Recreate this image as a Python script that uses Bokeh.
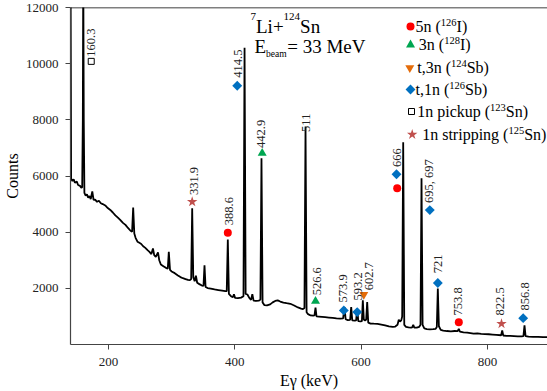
import math
from bokeh.plotting import figure
from bokeh.models import Range1d, FixedTicker, Span
from bokeh.embed import file_html
from bokeh.resources import INLINE
from bokeh.core.properties import value

FONT = "Liberation Serif"

# ---------------- data ----------------
energy = [140.2, 141.0, 143, 145, 147, 150, 152, 155, 157, 158.5, 159.5, 160.2, 161.0, 162.0,
          164, 166, 168, 170, 172, 174.5, 176.5, 179, 182, 185, 188, 191, 195, 199, 203, 207,
          211, 215, 219, 223, 227, 231, 235, 237.5, 239.2, 241, 243, 246, 249, 252, 255, 258,
          262, 265, 268, 270.5, 272.5, 275, 278.5, 280.5, 283, 287, 291, 294, 295.6, 297.5,
          300, 305, 310, 314, 318, 322, 326, 329, 331, 332.6, 334.3, 336.5, 338.5, 340.5, 344,
          348, 350.5, 352.1, 353.8, 357, 362, 368, 374, 380, 385, 387.3, 389, 390.7, 394, 397,
          398.7, 400.5, 405, 410, 413.8, 415.5, 417.2, 420, 423, 425.8, 427.8, 429.8, 434, 438,
          440.6, 442.3, 444, 447, 451, 456, 460, 464, 468, 472, 477, 482, 488, 494, 500, 505,
          508, 510.3, 512, 513.7, 516, 520, 524, 526.2, 527.8, 529.4, 533, 538, 543, 549, 555,
          561, 567, 571.5, 573.7, 575.5, 579, 582.6, 584.3, 586, 590, 592.1, 593.8, 595.5, 599,
          601.2, 602.7, 604.3, 606.2, 608, 609.6, 611.3, 615, 620, 626, 632, 638, 644, 650, 654,
          657.6, 659.6, 661.5, 663.5, 665, 666.6, 668.3, 671, 675, 679, 680.8, 682.5, 684.2,
          688, 692, 694, 695.6, 697.3, 700, 704, 709, 714, 718, 719.8, 721.4, 723.1, 726, 730,
          736, 742, 748, 752.8, 754.6, 756.4, 762, 768, 773, 778, 784, 790, 796, 802, 808, 814,
          821.6, 823.3, 825, 830, 836, 842, 848, 854, 856.9, 858.6, 860.3, 865, 872, 880, 888, 895]
counts = [12600, 5900, 5820, 5880, 5760, 5800, 5680, 5650, 5580, 5600, 8000, 13500, 8000, 5400,
          5300, 5350, 5230, 5280, 5180, 5450, 5150, 5160, 5080, 5120, 5030, 5000, 4950, 4860, 4790, 4700,
          4600, 4520, 4430, 4330, 4260, 4150, 4050, 4020, 4880, 3950, 3800, 3660, 3620, 3580, 3500, 3450,
          3360, 3300, 3220, 3420, 3180, 3120, 3280, 3000, 2850, 2790, 2730, 2700, 3300, 2660,
          2600, 2540, 2460, 2400, 2360, 2330, 2300, 2290, 2330, 4850, 2400, 2250, 2450, 2200, 2150,
          2100, 2090, 2820, 2050, 2010, 1990, 1960, 1940, 1920, 1900, 1900, 3740, 1800, 1720, 1680,
          1790, 1660, 1650, 1670, 1720, 10570, 1800, 1780, 1660, 1590, 1790, 1560, 1550, 1560,
          1600, 6630, 1500, 1400, 1390, 1430, 1500, 1550, 1570, 1530, 1490, 1470, 1450, 1390, 1320, 1280,
          1260, 1300, 7760, 1150, 1080, 1035, 1030, 1040, 1310, 1000, 995, 985, 975, 960, 945,
          930, 920, 930, 1330, 900, 870, 880, 1330, 860, 850, 860, 1275, 830, 820,
          830, 1570, 880, 860, 880, 1510, 780, 745, 740, 735, 710, 680, 645, 625, 640,
          700, 880, 820, 860, 1000, 7200, 700, 630, 610, 600, 610, 700, 600,
          600, 630, 700, 5920, 700, 570, 550, 540, 545, 560, 620, 1990, 650, 520, 495,
          480, 470, 480, 475, 560, 460, 430, 425, 405, 385, 395, 380, 370, 365, 355, 345,
          330, 500, 320, 310, 305, 300, 292, 290, 300, 680, 300, 280, 272, 268, 263, 260]

x_ticks = [200, 400, 600, 800]
y_ticks = [2000, 4000, 6000, 8000, 10000, 12000]

# assignment markers (energy, counts)
i126_e = [389.0, 657.1, 754.6]
i126_c = [3975, 5561, 796]
i128_e = [443.4, 527.8]
i128_c = [6811, 1546]
sb124_e = [604.2]
sb124_c = [1775]
sb126_e = [403.9, 572.6, 593.8, 656.0, 708.7, 721.4, 856.5]
sb126_c = [9214, 1214, 1154, 6061, 4786, 2189, 939]
sn123_e = [172.8]
sn123_c = [10082]
sn125_e = [332.6, 822.2]
sn125_c = [5082, 739]

# peak energy labels
peak_text = ["160.3", "331.9", "388.6", "414.5", "442.9", "511", "526.6", "573.9",
             "593.2", "602.7", "666", "695, 697", "721", "753.8", "822.5", "856.8"]
peak_text_e = [172.4, 335.2, 390.6, 405.1, 442.3, 513.1, 530.5, 571.3,
               594.3, 612.2, 657.1, 707.1, 721.4, 753.7, 820.6, 858.6]
peak_text_c = [10250, 5321, 4250, 9500, 7000, 7571, 1750, 1500,
               1571, 1929, 6321, 5036, 2536, 1036, 1036, 1214]

legend_rows = [
    [("5n (", "n"), ("126", "s"), ("I)", "n")],
    [("3n (", "n"), ("128", "s"), ("I)", "n")],
    [("t,3n (", "n"), ("124", "s"), ("Sb)", "n")],
    [("t,1n (", "n"), ("126", "s"), ("Sb)", "n")],
    [("1n pickup (", "n"), ("123", "s"), ("Sn)", "n")],
    [("1n stripping (", "n"), ("125", "s"), ("Sn)", "n")],
]

# ---------------- layout helpers (page px -> data) ----------------
XL, XR, YT, YB = 70.0, 547.0, 7.0, 344.0
E0, E1, C0, C1 = 140.0, 895.0, 0.0, 12000.0


def ex(xp):
    return E0 + (xp - XL) * (E1 - E0) / (XR - XL)


def cy(yp):
    return C0 + (YB - yp) * (C1 - C0) / (YB - YT)


WID = {" ": 0.25, "(": 0.333, ")": 0.333, ",": 0.25, ".": 0.25, "+": 0.564, "=": 0.564,
       "n": 0.5, "t": 0.278, "p": 0.5, "i": 0.278, "c": 0.444, "k": 0.5, "u": 0.5, "s": 0.389,
       "r": 0.333, "g": 0.5, "I": 0.333, "S": 0.556, "b": 0.5, "L": 0.611, "E": 0.611,
       "M": 0.889, "e": 0.444, "V": 0.722, "a": 0.444, "m": 0.778}


def tw(s, fs):
    return sum(WID.get(ch, 0.5) for ch in s) * fs


p = figure(width=547, height=391, x_range=Range1d(E0, E1), y_range=Range1d(C0, C1),
           output_backend="svg", toolbar_location=None,
           min_border_left=70, min_border_right=0, min_border_top=7, min_border_bottom=47)
p.outline_line_color = None
p.grid.visible = False
p.background_fill_color = "white"

for ax in (p.xaxis, p.yaxis):
    ax.axis_line_color = "#444444"
    ax.axis_line_width = 1.2
    ax.major_tick_line_color = "#444444"
    ax.major_tick_in = 0
    ax.major_tick_out = 5
    ax.minor_tick_line_color = None
    ax.major_label_text_font = FONT
    ax.major_label_text_font_size = "13px"
    ax.major_label_text_color = "#222222"
    ax.axis_label_text_font = FONT
    ax.axis_label_text_font_size = "16px"
    ax.axis_label_text_font_style = "normal"
    ax.axis_label_text_color = "black"
p.xaxis.ticker = FixedTicker(ticks=x_ticks)
p.yaxis.ticker = FixedTicker(ticks=y_ticks)
p.xaxis.major_label_standoff = 8
p.yaxis.major_label_standoff = 7
p.xaxis.axis_label = "Eγ (keV)"
p.yaxis.axis_label = "Counts"
p.xaxis.axis_label_standoff = 3
p.yaxis.axis_label_standoff = 2

p.add_layout(Span(location=C1, dimension="width", line_color="black", line_width=1.5))

# spectrum
p.line(energy, counts, line_color="black", line_width=1.8)

# markers
BLUE, RED, GREEN, ORANGE, STAR = "#0070c0", "#ff0000", "#00a651", "#e46c0a", "#c0504d"
p.scatter(i126_e, i126_c, marker="circle", size=8, fill_color=RED, line_color=None)
p.scatter(i128_e, i128_c, marker="triangle", size=9, fill_color=GREEN, line_color=None)
p.scatter(sb124_e, sb124_c, marker="inverted_triangle", size=9, fill_color=ORANGE, line_color=None)
p.scatter(sb126_e, sb126_c, marker="square", angle=math.pi / 4, size=7, fill_color=BLUE, line_color=None)
p.scatter(sn123_e, sn123_c, marker="square", size=6, fill_color="white", line_color="black", line_width=1)
p.scatter(sn125_e, sn125_c, marker="star", size=11, fill_color=STAR, line_color=None)

# peak labels
p.text(x=peak_text_e, y=peak_text_c, text=peak_text, angle=math.pi / 2,
       text_align="left", text_baseline="middle", text_font=value(FONT),
       text_font_size="12.5px", text_color="#222222")

# legend
row_mark_y = [26, 44.3, 67.3, 89, 111, 134]
row_mark_x = [410, 410, 409.3, 410, 411, 411.7]
row_text_x = [415, 418.3, 416.7, 415, 416.7, 421.7]
mk = [("circle", RED, 8, 0), ("triangle", GREEN, 9, 0), ("inverted_triangle", ORANGE, 9, 0),
      ("square", BLUE, 7, math.pi / 4), ("square", "white", 6, 0), ("star", STAR, 11, 0)]
for i, (m, col, sz, ang) in enumerate(mk):
    p.scatter([ex(row_mark_x[i])], [cy(row_mark_y[i])], marker=m, size=sz, angle=ang,
              fill_color=col, line_color=("black" if col == "white" else None), line_width=1)


def mid(base, fs):
    # vertical centre of a text line whose alphabetic baseline is at page y = base
    return base - 0.3 * fs


LF, LS = 16, 10.5
nx, ny, nt, sx, sy, st = [], [], [], [], [], []
for i, row in enumerate(legend_rows):
    x = row_text_x[i]
    base = row_mark_y[i] + 4.5
    for txt, kind in row:
        if kind == "n":
            nx.append(ex(x)); ny.append(cy(mid(base, LF))); nt.append(txt)
            x += tw(txt, LF)
        else:
            sx.append(ex(x)); sy.append(cy(mid(base - 5.5, LS))); st.append(txt)
            x += tw(txt, LS)

# title
TF, TS, TB = 19, 11, 9.5
tx, ty, tt = [], [], []
ux, uy, ut = [], [], []
x = 250
ux.append(ex(x)); uy.append(cy(mid(19, TS))); ut.append("7"); x += tw("7", TS)
tx.append(ex(x)); ty.append(cy(mid(31.7, TF))); tt.append("Li+"); x += tw("Li+", TF)
ux.append(ex(x)); uy.append(cy(mid(19, TS))); ut.append("124"); x += tw("124", TS)
tx.append(ex(x)); ty.append(cy(mid(31.7, TF))); tt.append("Sn")
x = 254
tx.append(ex(x)); ty.append(cy(mid(51.7, TF))); tt.append("E"); x += tw("E", TF)
bx = ex(x); x += tw("beam", TB)
tx.append(ex(x + 0.5)); ty.append(cy(mid(51.7, TF))); tt.append("= 33 MeV")

common = dict(text_align="left", text_baseline="middle", text_font=value(FONT), text_color="black")
p.text(x=nx, y=ny, text=nt, text_font_size=f"{LF}px", **common)
p.text(x=sx, y=sy, text=st, text_font_size=f"{LS}px", **common)
p.text(x=ux, y=uy, text=ut, text_font_size=f"{TS}px", **common)
p.text(x=tx, y=ty, text=tt, text_font_size=f"{TF}px", **common)
p.text(x=[bx], y=[cy(mid(56.5, TB))], text=["beam"], text_font_size=f"{TB}px", **common)

open("out.html", "w").write(file_html(p, INLINE))
